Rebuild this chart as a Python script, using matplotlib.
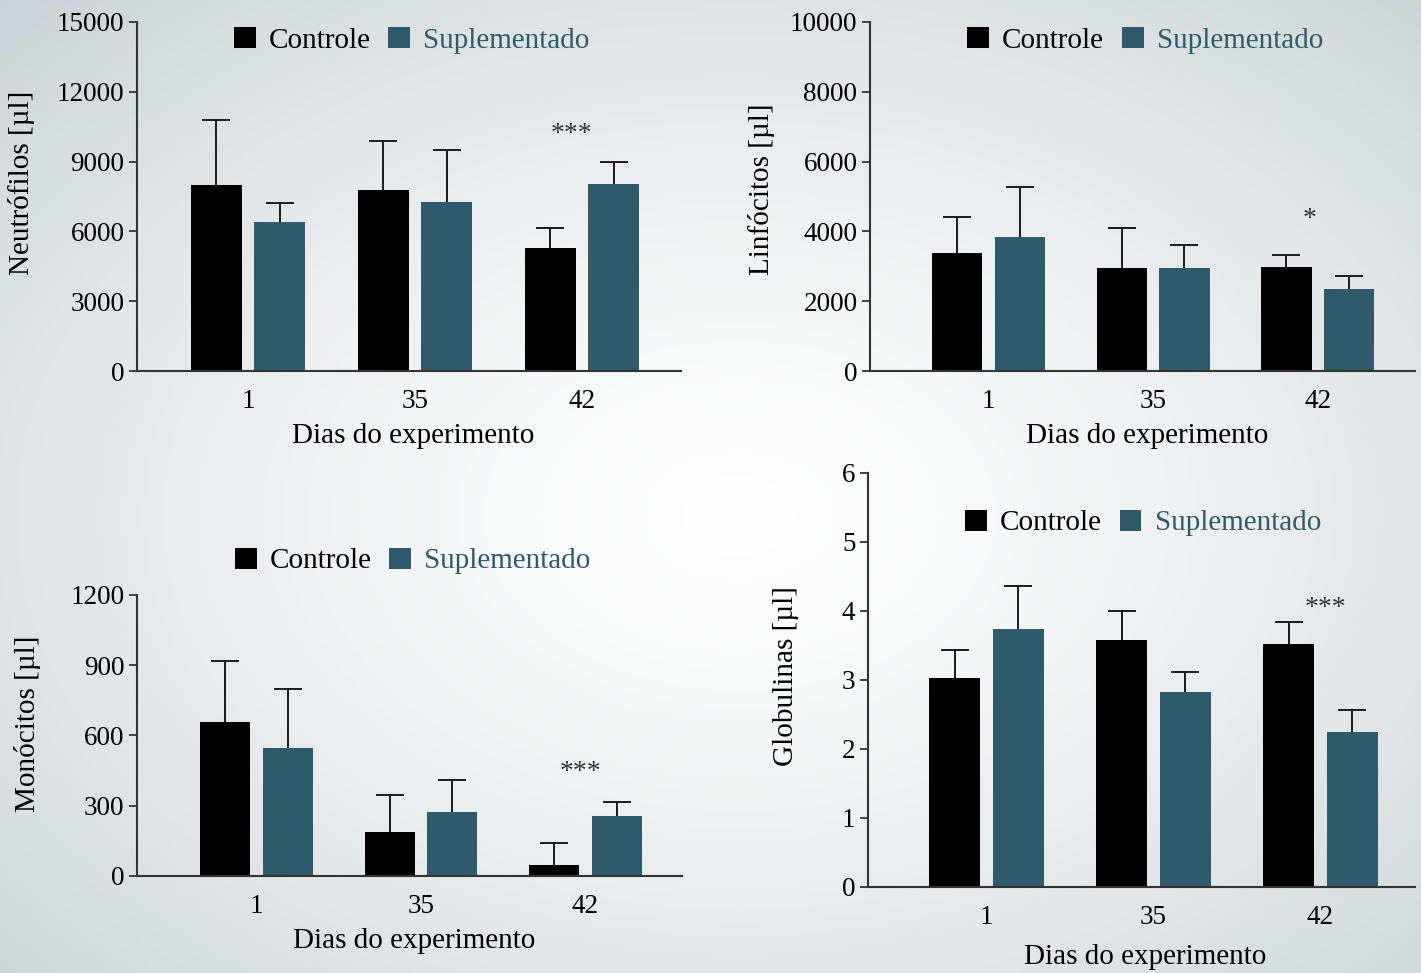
import numpy as np
import matplotlib
matplotlib.use("Agg")
import matplotlib.pyplot as plt

plt.rcParams['font.family'] = ['Liberation Serif', 'DejaVu Serif']

# Dados (média e limite superior da barra de erro)
dias = ['1', '35', '42']
grupos = ['Controle', 'Suplementado']

neutro_controle = [8000, 7800, 5300]
neutro_controle_sup = [10800, 9900, 6150]
neutro_suplem = [6400, 7280, 8050]
neutro_suplem_sup = [7200, 9500, 9000]

linfo_controle = [3390, 2950, 2980]
linfo_controle_sup = [4400, 4100, 3330]
linfo_suplem = [3840, 2950, 2350]
linfo_suplem_sup = [5280, 3600, 2720]

mono_controle = [658, 188, 47]
mono_controle_sup = [918, 346, 141]
mono_suplem = [548, 273, 256]
mono_suplem_sup = [799, 410, 316]

glob_controle = [3.03, 3.58, 3.52]
glob_controle_sup = [3.43, 4.00, 3.84]
glob_suplem = [3.74, 2.83, 2.25]
glob_suplem_sup = [4.36, 3.12, 2.57]

# anotações de significância: (texto, posição x, posição y)
sig_neutro = ('***', 1.94, 10170)
sig_linfo = ('*', 1.95, 4330)
sig_mono = ('***', 1.97, 444)
sig_glob = ('***', 2.03, 4.03)

cor_controle = '#000000'
cor_suplem = '#2d5b6c'

fig = plt.figure(figsize=(14.21, 9.73), dpi=100)

# fundo com gradiente radial
bg = fig.add_axes([0, 0, 1, 1], zorder=-10)
gx, gy = np.meshgrid(np.linspace(0, 1, 400), np.linspace(0, 1, 300))
r = np.sqrt(((gx - 0.52) / 0.75) ** 2 + ((gy - 0.47) / 0.75) ** 2)
r = np.clip(r, 0, 1)
c0 = np.array([1.0, 1.0, 1.0])
c1 = np.array([0.80, 0.825, 0.835])
img = c0 + (c1 - c0) * r[..., None] ** 1.3
bg.imshow(img, extent=[0, 1, 0, 1], origin='lower', aspect='auto')
bg.axis('off')


def painel(rect, xlim, controle, controle_sup, suplem, suplem_sup, ylim, yticks,
           ylabel, ylabel_xy, xlabel_xy, leg_xy, sig):
    ax = fig.add_axes(rect)
    ax.patch.set_alpha(0)
    x = np.arange(len(dias))
    largura = 0.305
    desloc = 0.19
    for medias, sup, cor, nome, d in [(controle, controle_sup, cor_controle, grupos[0], -desloc),
                                      (suplem, suplem_sup, cor_suplem, grupos[1], desloc)]:
        medias = np.array(medias)
        erro = np.array(sup) - medias
        ax.bar(x + d, medias, largura, color=cor, zorder=2, label=nome)
        _, caps, _ = ax.errorbar(x + d, medias, yerr=[np.zeros_like(erro), erro],
                                 fmt='none', ecolor='#1a1a1a', elinewidth=1.4,
                                 capsize=10, capthick=1.4, zorder=1)
        # só a barra de erro superior
        caps[0].set_visible(False)
    ax.set_xlim(xlim)
    ax.set_ylim(ylim)
    ax.set_yticks(yticks)
    ax.set_xticks(x)
    ax.set_xticklabels(dias)
    for s in ['top', 'right']:
        ax.spines[s].set_visible(False)
    for s in ['left', 'bottom']:
        ax.spines[s].set_color('#333333')
        ax.spines[s].set_linewidth(1.5)
    ax.tick_params(axis='y', length=6, width=1.3, color='#333333',
                   labelsize=19.5, pad=3)
    ax.tick_params(axis='x', length=0, labelsize=19.5, pad=13)
    ax.set_ylabel(ylabel, fontsize=21)
    ax.yaxis.set_label_coords(*ylabel_xy)
    ax.set_xlabel('Dias do experimento', fontsize=21)
    ax.xaxis.set_label_coords(*xlabel_xy)
    leg = ax.legend(loc='center', bbox_to_anchor=leg_xy, ncol=2, frameon=False,
                    fontsize=21, handlelength=0.75, handleheight=0.75,
                    handletextpad=0.45, columnspacing=0.6)
    leg.get_texts()[1].set_color(cor_suplem)
    ax.text(sig[1], sig[2], sig[0], ha='center', va='center', fontsize=20,
            color='#333333')
    return ax


painel([0.0964, 0.6187, 0.3828, 0.3587], (-0.665, 2.593),
       neutro_controle, neutro_controle_sup, neutro_suplem, neutro_suplem_sup,
       (0, 15000), [0, 3000, 6000, 9000, 12000, 15000], 'Neutrófilos [µl]',
       (-0.1875, 0.54), (0.507, -0.149), (0.505, 0.948), sig_neutro)

painel([0.6122, 0.6187, 0.3835, 0.3587], (-0.72, 2.59),
       linfo_controle, linfo_controle_sup, linfo_suplem, linfo_suplem_sup,
       (0, 10000), [0, 2000, 4000, 6000, 8000, 10000], 'Linfócitos [µl]',
       (-0.174, 0.52), (0.508, -0.149), (0.505, 0.948), sig_linfo)

painel([0.0964, 0.0997, 0.3835, 0.2888], (-0.726, 2.587),
       mono_controle, mono_controle_sup, mono_suplem, mono_suplem_sup,
       (0, 1200), [0, 300, 600, 900, 1200], 'Monócitos [µl]',
       (-0.176, 0.54), (0.508, -0.185), (0.506, 1.121), sig_mono)

painel([0.6108, 0.0884, 0.3849, 0.4255], (-0.71, 2.566),
       glob_controle, glob_controle_sup, glob_suplem, glob_suplem_sup,
       (0, 6), [0, 1, 2, 3, 4, 5, 6], 'Globulinas [µl]',
       (-0.126, 0.51), (0.506, -0.138), (0.503, 0.879), sig_glob)

fig.savefig('out.png', dpi=100)
